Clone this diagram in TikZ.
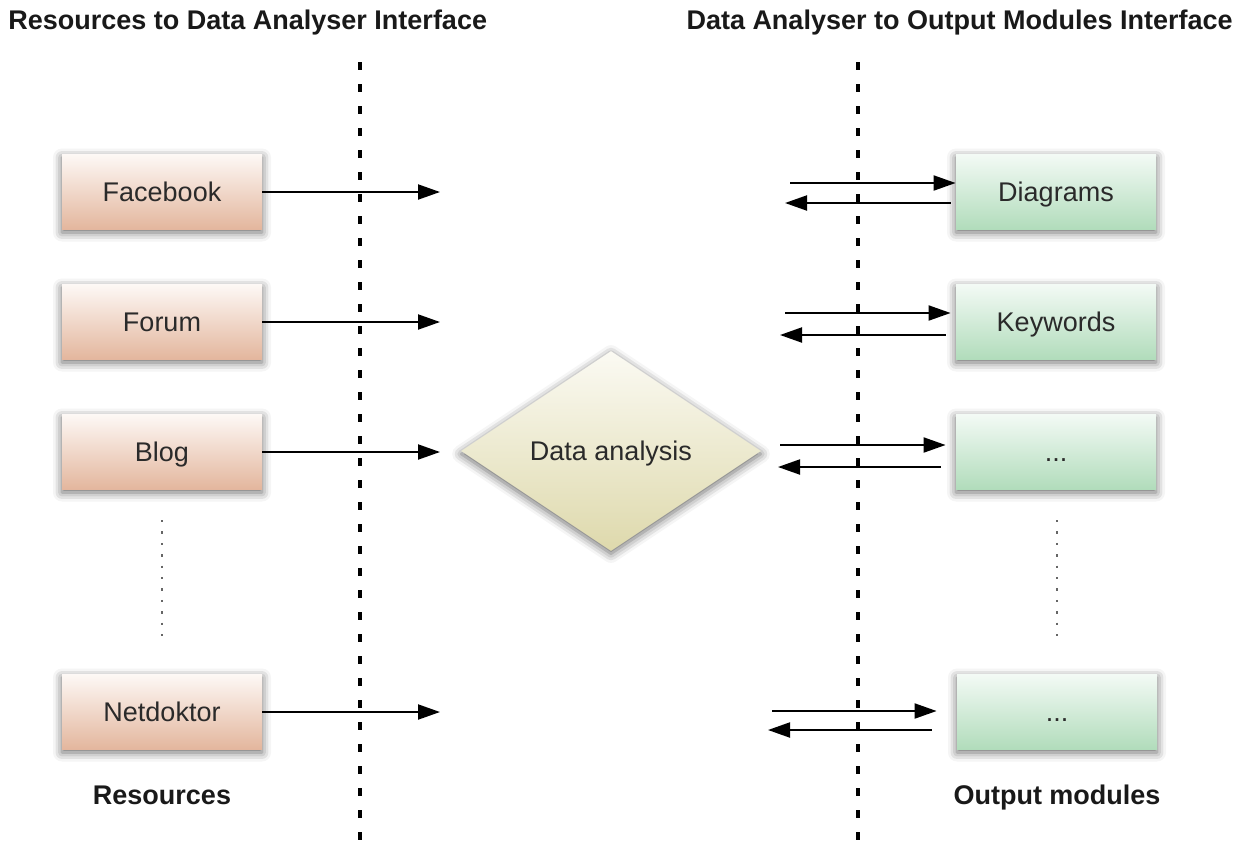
\documentclass[tikz,border=0pt]{standalone}
\usepackage{fontspec}
\setmainfont{Liberation Sans}
\usetikzlibrary{shapes.geometric,arrows.meta,shadows.blur}
\definecolor{srctop}{HTML}{FDF8F5}
\definecolor{srcbot}{HTML}{E3B69D}
\definecolor{outtop}{HTML}{F3FAF5}
\definecolor{outbot}{HTML}{B1DCBB}
\definecolor{anatop}{HTML}{FBFAF3}
\definecolor{anabot}{HTML}{DED9AC}
\definecolor{txt}{HTML}{2A2A2A}
\tikzset{
	box/.style={rectangle, minimum width=100pt, minimum height=37.5pt, inner sep=0pt, text=txt,
		font=\fontsize{13.5}{16}\selectfont, text height=9.7pt, text depth=0pt,
		blur shadow={shadow xshift=0pt, shadow yshift=-1.5pt, shadow blur radius=4.5pt, shadow opacity=60}},
	src/.style={box, top color=srctop, bottom color=srcbot},
	outmod/.style={box, top color=outtop, bottom color=outbot},
	arr/.style={line width=1pt, -{Triangle[length=11pt,width=7.5pt]}},
	iface/.style={line width=2pt, dash pattern=on 4pt off 7pt},
	gapdots/.style={line width=1.4pt, black!60, dash pattern=on 1.2pt off 4.5pt},
	heading/.style={font=\bfseries\fontsize{13.5}{16}\selectfont, text=black!90, inner sep=0pt,
		text height=9.7pt, text depth=0pt}
}
\begin{document}
\begin{tikzpicture}[x=0.5pt,y=-0.5pt]
		\useasboundingbox (0,0) rectangle (1248,842);
		% interfaces
		\draw[iface] (360,62) -- (360,842);
		\draw[iface] (858,62) -- (858,842);
		\node[heading, anchor=west] (hleft) at (8,20) {Resources to Data Analyser Interface};
		\node[heading, anchor=east] (hright) at (1233,20) {Data Analyser to Output Modules Interface};
		% resources
		\node[src] (fb) at (162,192) {Facebook};
		\node[src] (forum) at (162,322) {Forum};
		\node[src] (blog) at (162,452) {Blog};
		\node[src] (netdok) at (162,712) {Netdoktor};
		\draw[gapdots] (162,520) -- (162,645);
		\node[heading] (lres) at (162,795) {Resources};
		% data analysis
		\node[diamond, aspect=1.5, minimum width=150pt, minimum height=100pt, inner sep=0pt,
			top color=anatop, bottom color=anabot, text=txt, font=\fontsize{13.5}{16}\selectfont,
			text height=9.7pt, text depth=0pt,
			blur shadow={shadow xshift=0pt, shadow yshift=-1.5pt, shadow blur radius=4.5pt, shadow opacity=60}]
			(ana) at (611,451) {Data analysis};
		% output modules
		\node[outmod] (dgm) at (1056,192) {Diagrams};
		\node[outmod] (kwd) at (1056,322) {Keywords};
		\node[outmod] (om3) at (1056,452) {...};
		\node[outmod] (om4) at (1057,712) {...};
		\draw[gapdots] (1057,520) -- (1057,645);
		\node[heading] (lout) at (1057,795) {Output modules};
		% resource arrows
		\foreach \n/\y in {fb/192,forum/322,blog/452,netdok/712}{
			\coordinate (\n-end) at (440,\y);
			\draw[arr] (\n) -- (\n-end);
		}
		% output arrows
		\foreach \n/\a/\b/\ya/\yb/\ga/\gb in {dgm/790/785/183/203/0/5,kwd/785/780/313/335/5/10,om3/780/778/445/467/10/15,om4/772/768/711/730/20/25}{
			\coordinate (\n-in) at (\a,\ya);
			\coordinate (\n-out) at (\b,\yb);
			\draw[arr, shorten >=\ga*0.5pt] (\n-in) -- (\n-in -| \n.west);
			\draw[arr, shorten <=\gb*0.5pt] (\n-out -| \n.west) -- (\n-out);
		}
\end{tikzpicture}
\end{document}
